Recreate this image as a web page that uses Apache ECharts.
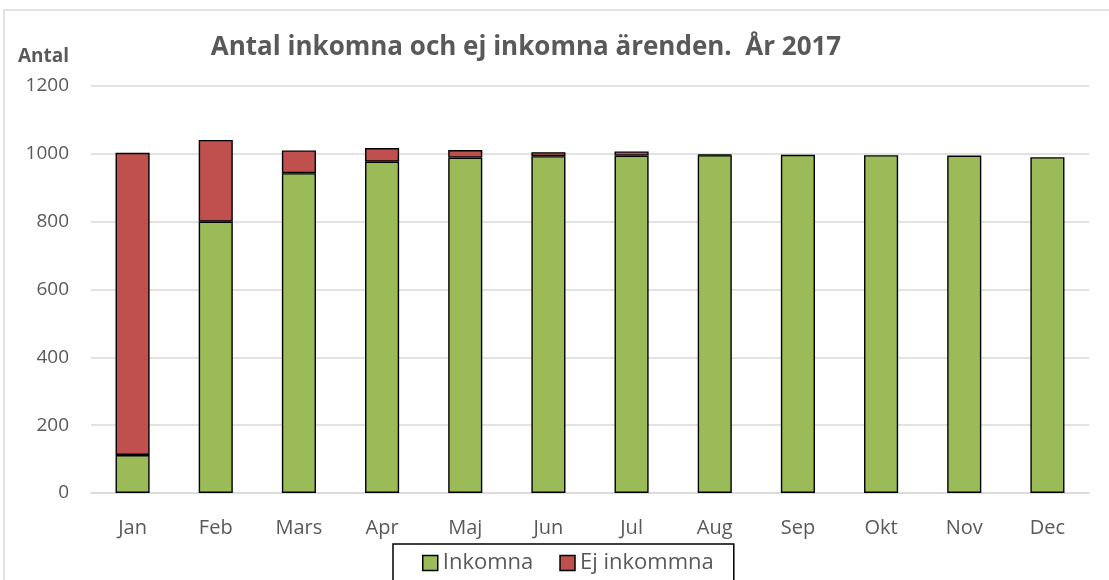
<!DOCTYPE html>
<html>
<head>
<meta charset="utf-8">
<script src="https://cdn.jsdelivr.net/npm/echarts@6/dist/echarts.min.js"></script>
<style>
  html, body { margin: 0; padding: 0; background: #fff; }
  #main { width: 1109px; height: 580px; }
</style>
</head>
<body>
<div id="main"></div>
<script>
// månader och värden
const months = ['Jan', 'Feb', 'Mars', 'Apr', 'Maj', 'Jun', 'Jul', 'Aug', 'Sep', 'Okt', 'Nov', 'Dec'];
const inkomna = [112, 800, 943, 977, 989, 993, 995, 996, 997, 996, 995, 990];
const ejInkomna = [891, 241, 67, 40, 22, 12, 12, 2, 0, 0, 0, 0];

const myChart = echarts.init(document.getElementById('main'));

const fontFam = '"Open Sans", "Liberation Sans", sans-serif';
const textColor = '#595959';

// nollor ritas inte (annars blir det en extra svart kant)
const noZero = arr => arr.map(v => (v === 0 ? '-' : v));

const option = {
  backgroundColor: '#fff',
  animation: false,
  title: {
    text: 'Antal inkomna och ej inkomna ärenden.  År 2017',
    left: 521,
    top: 30,
    textAlign: 'center',
    textStyle: { fontFamily: fontFam, fontSize: 26, fontWeight: 'bold', color: textColor }
  },
  legend: {
    bottom: -10,
    left: 393,
    icon: 'rect',
    itemWidth: 15,
    itemHeight: 15,
    itemGap: 26,
    padding: [8, 20, 16, 29],
    borderColor: '#000',
    borderWidth: 1.5,
    textStyle: { fontFamily: fontFam, fontSize: 22, color: textColor },
    data: [
      { name: 'Inkomna', itemStyle: { borderColor: '#000', borderWidth: 1.5 } },
      { name: 'Ej inkommna', itemStyle: { borderColor: '#000', borderWidth: 1.5 } }
    ]
  },
  grid: {
    left: 91,
    right: 20,
    top: 86,
    bottom: 87
  },
  xAxis: {
    type: 'category',
    data: months,
    axisTick: { show: false },
    axisLine: { lineStyle: { color: '#d9d9d9', width: 1.5 } },
    axisLabel: { fontFamily: fontFam, fontSize: 20, color: textColor, margin: 25 }
  },
  yAxis: {
    type: 'value',
    name: 'Antal',
    nameLocation: 'end',
    nameGap: 20,
    nameTextStyle: { fontFamily: fontFam, fontSize: 19, fontWeight: 'bold', color: textColor, align: 'right', padding: [0, 22, 0, 0] },
    min: 0,
    max: 1200,
    interval: 200,
    axisLine: { show: false },
    axisTick: { show: false },
    splitLine: { lineStyle: { color: '#d9d9d9', width: 1.5 } },
    axisLabel: { fontFamily: fontFam, fontSize: 19, color: textColor, margin: 22, formatter: v => String(v) }
  },
  series: [
    {
      name: 'Inkomna',
      type: 'bar',
      stack: 'total',
      barWidth: '41%',
      itemStyle: { color: '#9BBB59', borderColor: '#000', borderWidth: 1.4 },
      data: noZero(inkomna)
    },
    {
      name: 'Ej inkommna',
      type: 'bar',
      stack: 'total',
      barWidth: '41%',
      itemStyle: { color: '#C0504D', borderColor: '#000', borderWidth: 1.4 },
      data: noZero(ejInkomna)
    }
  ],
  graphic: [
    {
      type: 'rect',
      shape: { x: 4, y: 10, width: 1110, height: 600 },
      style: { fill: null, stroke: '#d9d9d9', lineWidth: 1.5 },
      silent: true
    }
  ]
};

myChart.setOption(option);
</script>
</body>
</html>
